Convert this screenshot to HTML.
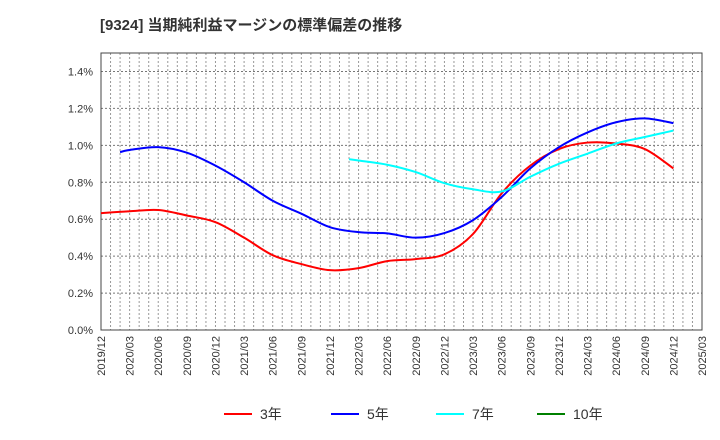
<!DOCTYPE html>
<html><head><meta charset="utf-8"><style>
body{margin:0;background:#fff;}
svg{display:block;font-family:"Liberation Sans","Noto Sans CJK JP",sans-serif;}
</style></head><body>
<svg id="chart" width="720" height="440">
<text x="100" y="30" font-size="15" font-weight="bold" fill="#333">[9324]  当期純利益マージンの標準偏差の推移</text>
<g id="grid"></g>
<g id="axes"></g>
<g id="series"></g>
<g id="legend"></g>
</svg>
<script>
const xLabels=["2019/12","2020/03","2020/06","2020/09","2020/12","2021/03","2021/06","2021/09","2021/12","2022/03","2022/06","2022/09","2022/12","2023/03","2023/06","2023/09","2023/12","2024/03","2024/06","2024/09","2024/12","2025/03"];
const yTicks=[0,0.2,0.4,0.6,0.8,1.0,1.2,1.4];
const seriesNames=["3年","5年","7年","10年"];
const seriesColors=["#ff0000","#0000ff","#00ffff","#008000"];
const s3=[0.633,0.643,0.65,0.62,0.584,0.50,0.405,0.357,0.324,0.335,0.373,0.384,0.41,0.52,0.74,0.89,0.98,1.015,1.01,0.98,0.875];
const s3Start=0;
const s5=[0.963,0.975,0.99,0.96,0.89,0.80,0.70,0.63,0.557,0.53,0.523,0.50,0.525,0.595,0.72,0.875,0.99,1.07,1.125,1.146,1.12];
const s5Start=2/3;
const s7=[0.925,0.918,0.895,0.855,0.795,0.762,0.75,0.83,0.90,0.955,1.01,1.045,1.08];
const s7Start=8+2/3;
const s10=[];
const s10Start=0;

const L=101,R=702,T=53,B=330,yMax=1.5;
const NS="http://www.w3.org/2000/svg";
const xq=i=>L+(R-L)*i/(xLabels.length-1);
const yv=v=>B-(B-T)*v/yMax;
function idx(st,i){return Number.isInteger(st)?st+i:(i===0?st:Math.ceil(st)+i-1);}
function mk(tag,attrs,parent){const e=document.createElementNS(NS,tag);for(const k in attrs)e.setAttribute(k,attrs[k]);parent.appendChild(e);return e;}
const grid=document.getElementById('grid'),axes=document.getElementById('axes'),ser=document.getElementById('series'),leg=document.getElementById('legend');
const months=(xLabels.length-1)*3;
for(let m=1;m<months;m++){const x=L+(R-L)*m/months;
const g=mk('line',{x1:x,x2:x,y1:T,y2:B,stroke:'#999','stroke-dasharray':'2,2','stroke-width':1},grid);

}
yTicks.forEach(v=>{const y=yv(v);
if(v>0){const g=mk('line',{x1:L,x2:R,y1:y,y2:y,stroke:'#777','stroke-dasharray':'2,2','stroke-width':1},grid);

}
const t=mk('text',{x:93,y:y+4,'font-size':11,'text-anchor':'end',fill:'#333'},axes);t.textContent=v.toFixed(1)+'%';

});
xLabels.forEach((lab,i)=>{const x=xq(i);
const t=mk('text',{x:0,y:0,'font-size':11,'text-anchor':'end',fill:'#333',transform:`translate(${x+4},336) rotate(-90)`},axes);t.textContent=lab;

});
const fr=mk('rect',{x:L,y:T,width:R-L,height:B-T,fill:'none',stroke:'#444','stroke-width':1},axes);


function path(pts){let d=`M${pts[0][0]},${pts[0][1]}`;
for(let i=0;i<pts.length-1;i++){const p0=pts[i-1]||pts[i],p1=pts[i],p2=pts[i+1],p3=pts[i+2]||p2;
d+=` C${p1[0]+(p2[0]-p0[0])/6},${p1[1]+(p2[1]-p0[1])/6} ${p2[0]-(p3[0]-p1[0])/6},${p2[1]-(p3[1]-p1[1])/6} ${p2[0]},${p2[1]}`;}return d;}
[[s3,s3Start],[s5,s5Start],[s7,s7Start],[s10,s10Start]].forEach(([arr,st],k)=>{
if(arr.length<2)return;
const pts=arr.map((v,i)=>[xq(idx(st,i)),yv(v)]);
const p=mk('path',{d:path(pts),fill:'none',stroke:seriesColors[k],'stroke-width':2},ser);

});
const lx=[224,331,436,537];
seriesNames.forEach((n,k)=>{
const g=mk('g',{},leg);


mk('line',{x1:lx[k],x2:lx[k]+28,y1:414,y2:414,stroke:seriesColors[k],'stroke-width':2},g);
const t=mk('text',{x:lx[k]+36,y:419,'font-size':14,fill:'#333'},g);t.textContent=n;});
</script>
</body></html>
